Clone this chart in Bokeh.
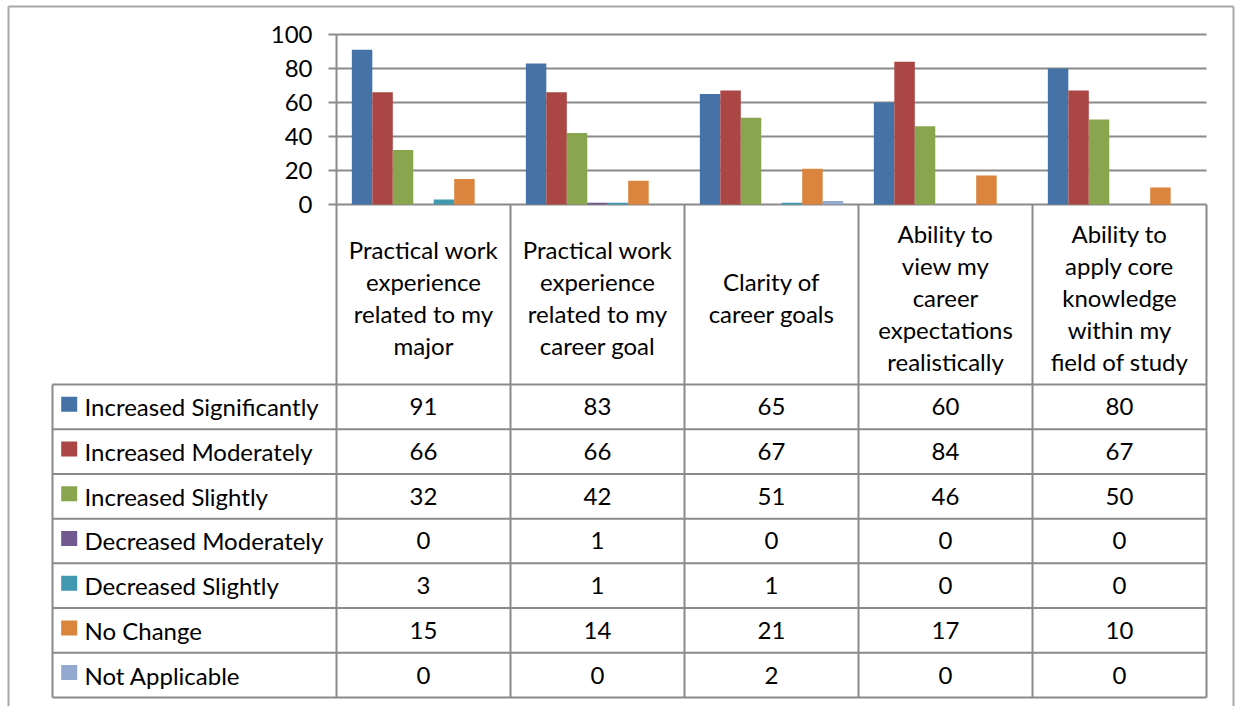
from bokeh.plotting import figure
from bokeh.models import Range1d, FixedTicker, ColumnDataSource
from bokeh.transform import dodge
from bokeh.embed import file_html
from bokeh.resources import INLINE
from bokeh.core.properties import value

# ---------------- data ----------------
categories = [
    "Practical work\nexperience\nrelated to my\nmajor",
    "Practical work\nexperience\nrelated to my\ncareer goal",
    "Clarity of\ncareer goals",
    "Ability to\nview my\ncareer\nexpectations\nrealistically",
    "Ability to\napply core\nknowledge\nwithin my\nfield of study",
]
series_names = [
    "Increased Significantly",
    "Increased Moderately",
    "Increased Slightly",
    "Decreased Moderately",
    "Decreased Slightly",
    "No Change",
    "Not Applicable",
]
increased_significantly = [91, 83, 65, 60, 80]
increased_moderately = [66, 66, 67, 84, 67]
increased_slightly = [32, 42, 51, 46, 50]
decreased_moderately = [0, 1, 0, 0, 0]
decreased_slightly = [3, 1, 1, 0, 0]
no_change = [15, 14, 21, 17, 10]
not_applicable = [0, 0, 2, 0, 0]
y_ticks = [0, 20, 40, 60, 80, 100]

series_values = [
    increased_significantly,
    increased_moderately,
    increased_slightly,
    decreased_moderately,
    decreased_slightly,
    no_change,
    not_applicable,
]
colors = ["#4572A7", "#AA4643", "#89A54E", "#71588F", "#4198AF", "#DB843D", "#93A9CF"]

# ---------------- style / layout (pixels) ----------------
FONT = "Lato"
FS = "24px"
LINE = "#8a8a8a"
BORDER = "#a8a8a8"
LW = 2
W, H = 1235, 706
PLOT_LEFT = 336        # left edge of plot area
COL = 174.0            # width of one category column
ZERO_PX = 204          # pixel row of value 0
PX_PER_VAL = 1.7       # pixels per value unit
TABLE_LEFT = 52
HEADER_BOTTOM = 384
ROW_H = 44.71
GAP = 1.5              # gap width between clusters, in bar widths

def X(px):
    return (px - PLOT_LEFT) / COL

def Y(py):
    return (ZERO_PX - py) / PX_PER_VAL

ncat = len(categories)
nser = len(series_names)
cat_x = [i + 0.5 for i in range(ncat)]

p = figure(
    width=W, height=H,
    x_range=Range1d(X(0), X(W)),
    y_range=Range1d(Y(H), Y(0)),
    output_backend="svg", toolbar_location=None,
    x_axis_location=None, title=None,
    min_border_left=0, min_border_right=0, min_border_top=0, min_border_bottom=0,
    outline_line_color=None,
)
p.xgrid.visible = False
p.ygrid.visible = False

# outer chart border (left, top, right)
p.segment(x0=[X(8), X(8), X(1233)], y0=[Y(H + 10), Y(6), Y(6)],
          x1=[X(8), X(1233), X(1233)], y1=[Y(6), Y(6), Y(H + 10)],
          line_color=BORDER, line_width=LW)

# value axis, fixed at the left of the plot area
yax = p.yaxis[0]
yax.fixed_location = 0
yax.bounds = (min(y_ticks), max(y_ticks))
yax.ticker = FixedTicker(ticks=y_ticks)
yax.major_tick_out = 8
yax.major_tick_in = 0
yax.minor_tick_line_color = None
yax.axis_line_color = LINE
yax.axis_line_width = LW
yax.major_tick_line_color = LINE
yax.major_tick_line_width = LW
yax.major_label_text_font = FONT
yax.major_label_text_font_size = FS
yax.major_label_text_color = "black"
yax.major_label_standoff = 16

# horizontal gridlines over the plot area
p.segment(x0=[0] * len(y_ticks), y0=y_ticks, x1=[ncat] * len(y_ticks), y1=y_ticks,
          line_color=LINE, line_width=LW)

# clustered bars
bar_w = 1.0 / (nser + GAP)
for j, (name, vals) in enumerate(zip(series_names, series_values)):
    src = ColumnDataSource(dict(x=cat_x, top=vals))
    off = (j - (nser - 1) / 2) * bar_w
    p.vbar(x=dodge("x", off, range=p.x_range), top="top", bottom=0, width=bar_w,
           source=src, fill_color=colors[j], line_color=None)

# ---------------- data table ----------------
table_bottom = HEADER_BOTTOM + nser * ROW_H
vx = [float(i) for i in range(0, ncat + 1)]
p.segment(x0=vx, y0=[0] * len(vx), x1=vx, y1=[Y(table_bottom)] * len(vx),
          line_color=LINE, line_width=LW)
p.segment(x0=[X(TABLE_LEFT)], y0=[Y(HEADER_BOTTOM)], x1=[X(TABLE_LEFT)], y1=[Y(table_bottom)],
          line_color=LINE, line_width=LW)
hy = [Y(HEADER_BOTTOM + k * ROW_H) for k in range(nser + 1)]
p.segment(x0=[X(TABLE_LEFT)] * len(hy), y0=hy, x1=[float(ncat)] * len(hy), y1=hy,
          line_color=LINE, line_width=LW)

# category labels (header row)
p.text(x=cat_x, y=[Y(297)] * ncat, text=categories,
       text_font=value(FONT), text_font_size=value(FS), text_color="black",
       text_align="center", text_baseline="middle", text_line_height=1.11)

row_y = [Y(HEADER_BOTTOM + (j + 0.5) * ROW_H) for j in range(nser)]
# legend keys and series names
p.rect(x=[X(TABLE_LEFT + 16.7)] * nser, y=[Y(HEADER_BOTTOM + (j + 0.5) * ROW_H - 2.5) for j in range(nser)],
       width=16, height=15, width_units="screen", height_units="screen",
       fill_color=colors, line_color=None)
p.text(x=[X(TABLE_LEFT + 32)] * nser, y=row_y, text=series_names,
       text_font=value(FONT), text_font_size=value(FS), text_color="black",
       text_align="left", text_baseline="middle")

# table values
tx, ty, tt = [], [], []
for j, vals in enumerate(series_values):
    for i, v in enumerate(vals):
        tx.append(cat_x[i])
        ty.append(row_y[j])
        tt.append(str(v))
p.text(x=tx, y=ty, text=tt,
       text_font=value(FONT), text_font_size=value(FS), text_color="black",
       text_align="center", text_baseline="middle")

open("out.html", "w").write(file_html(p, INLINE))
